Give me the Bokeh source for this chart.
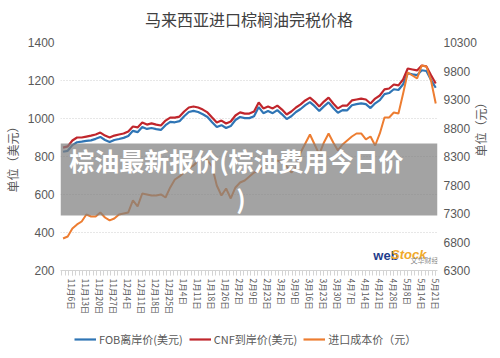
import math
from bokeh.plotting import figure
from bokeh.models import (Range1d, LinearAxis, FixedTicker, Label, BoxAnnotation,
                          Legend, LegendItem, ColumnDataSource)
from bokeh.layouts import column
from bokeh.embed import file_html
from bokeh.resources import INLINE

# ---- data ----
tick_labels = ["11月6日", "11月13日", "11月20日", "11月27日", "12月4日", "12月11日", "12月18日",
               "12月25日", "1月4日", "1月11日", "1月18日", "1月26日", "2月2日", "2月9日",
               "2月23日", "3月2日", "3月9日", "3月16日", "3月23日", "3月30日", "4月7日",
               "4月14日", "4月21日", "4月28日", "5月8日", "5月14日", "5月21日"]

cnf = [847, 853, 884, 900, 900, 905, 910, 916, 926, 910, 900, 910, 916, 921, 932, 958, 953, 979,
       968, 974, 968, 963, 989, 1005, 1005, 1010, 1037, 1058, 1063, 1058, 1047, 1032, 1005, 979,
       989, 974, 984, 1016, 1032, 1026, 1026, 1037, 1084, 1053, 1063, 1053, 1068, 1047, 1021,
       1037, 1058, 1074, 1095, 1110, 1089, 1063, 1089, 1110, 1079, 1053, 1068, 1068, 1095, 1100,
       1105, 1100, 1079, 1105, 1121, 1153, 1158, 1179, 1174, 1205, 1263, 1258, 1253, 1279, 1274,
       1228, 1184]

fob = [825, 830, 860, 875, 878, 882, 885, 893, 903, 887, 876, 887, 892, 898, 908, 935, 928, 955,
       945, 950, 944, 940, 965, 982, 980, 986, 1012, 1034, 1040, 1034, 1022, 1008, 980, 955,
       965, 950, 960, 992, 1008, 1002, 1002, 1012, 1060, 1028, 1040, 1028, 1044, 1022, 997,
       1012, 1034, 1050, 1070, 1086, 1065, 1040, 1064, 1085, 1055, 1030, 1044, 1043, 1070, 1076,
       1080, 1076, 1055, 1080, 1097, 1128, 1134, 1154, 1150, 1180, 1238, 1232, 1228, 1254, 1250,
       1202, 1162]

cost = [6862, 6897, 7037, 7108, 7160, 7283, 7248, 7248, 7318, 7230, 7178, 7213, 7283, 7301, 7318,
        7529, 7424, 7651, 7634, 7616, 7616, 7634, 7581, 7757, 7897, 7950, 8020, 8090, 8143, 8230,
        8265, 8230, 8125, 7792, 7616, 7739, 7564, 7757, 7844, 7879, 7950, 8020, 8055, 8125, 8213,
        8178, 8230, 8195, 8125, 8020, 8107, 8371, 8528, 8686, 8511, 8336, 8546, 8704, 8546, 8406,
        8511, 8581, 8651, 8704, 8704, 8599, 8651, 8493, 8704, 8985, 8985, 9072, 9055, 9405, 9774,
        9721, 9669, 9896, 9879, 9630, 9230]

left_ticks = [200, 400, 600, 800, 1000, 1200, 1400]
right_ticks = [6300, 6800, 7300, 7800, 8300, 8800, 9300, 9800, 10300]

title_text = "马来西亚进口棕榈油完税价格"
overlay_line1 = "棕油最新报价(棕油费用今日价"
overlay_line2 = ")"
series_names = ["FOB离岸价(美元)", "CNF到岸价(美元)", "进口成本价（元）"]
series_colors = ["#2f75b5", "#c0262c", "#ed7d31"]
left_title = "单位（美元）"
right_title = "单位（元）"

idx = list(range(len(cnf)))
label_idx = [2 + 3 * k for k in range(len(tick_labels))]

FONT = "Noto Sans CJK SC"
TXT = "#595959"


def strip(height):
    f = figure(width=500, height=height, output_backend="svg", toolbar_location=None,
               x_range=Range1d(0, 1), y_range=Range1d(0, height),
               x_axis_location=None, y_axis_location=None,
               min_border_left=0, min_border_right=0, min_border_top=0, min_border_bottom=0)
    f.grid.visible = False
    f.outline_line_color = None
    f.border_fill_color = "white"
    return f


# ---- title strip ----
tf = strip(30)
tf.add_layout(Label(x=0.5, y=12, text=title_text, text_font=FONT, text_font_size="16px",
                    text_color="#404040", text_align="center", text_baseline="middle"))

# ---- main chart ----
p = figure(width=500, height=300, output_backend="svg", toolbar_location=None,
           x_range=Range1d(-0.55, 80.38), y_range=Range1d(200, 1400),
           min_border_left=58, min_border_right=60, min_border_top=12, min_border_bottom=60)
p.outline_line_color = None
p.background_fill_color = "white"
p.border_fill_color = "white"
p.extra_y_ranges = {"right": Range1d(6300, 10300)}

p.xgrid.grid_line_color = None
p.ygrid.ticker = FixedTicker(ticks=left_ticks[1:])
p.ygrid.grid_line_color = "#cfcfcf"
p.ygrid.grid_line_dash = "1 2"
p.ygrid.grid_line_width = 1

xa = p.xaxis[0]
xa.ticker = FixedTicker(ticks=label_idx,
                        minor_ticks=[-0.25 + 0.75 * k for k in range(108)])
xa.major_label_overrides = {i: t for i, t in zip(label_idx, tick_labels)}
xa.major_label_orientation = "vertical"
xa.major_label_text_font = FONT
xa.major_label_text_font_size = "8.5px"
xa.major_label_text_color = TXT
xa.major_label_standoff = 3
xa.axis_line_color = "#d4d4d4"
xa.major_tick_line_color = "#d4d4d4"
xa.minor_tick_line_color = "#d4d4d4"
xa.major_tick_in = 0
xa.major_tick_out = 5
xa.minor_tick_in = 0
xa.minor_tick_out = 5


def style_y(ax, title, standoff, title_standoff):
    ax.axis_line_color = None
    ax.major_tick_line_color = None
    ax.minor_tick_line_color = None
    ax.major_tick_in = 0
    ax.major_tick_out = 0
    ax.minor_tick_in = 0
    ax.minor_tick_out = 0
    ax.major_label_text_font = "Liberation Sans"
    ax.major_label_text_font_size = "12px"
    ax.major_label_text_color = TXT
    ax.major_label_standoff = standoff
    ax.axis_label = title
    ax.axis_label_text_font = FONT
    ax.axis_label_text_font_size = "12px"
    ax.axis_label_text_font_style = "normal"
    ax.axis_label_text_color = TXT
    ax.axis_label_standoff = title_standoff


ya = p.yaxis[0]
ya.ticker = FixedTicker(ticks=left_ticks)
style_y(ya, left_title, 6, 4)

ra = LinearAxis(y_range_name="right", ticker=FixedTicker(ticks=right_ticks))
style_y(ra, right_title, 6, 1)
try:
    ra.axis_label_orientation = math.pi / 2
except Exception:
    pass
p.add_layout(ra, "right")

src = ColumnDataSource(dict(x=idx, fob=fob, cnf=cnf, cost=cost))
p.line("x", "fob", source=src, line_color=series_colors[0], line_width=2.2)
p.line("x", "cnf", source=src, line_color=series_colors[1], line_width=2.2)
p.line("x", "cost", source=src, line_color=series_colors[2], line_width=2.0,
       y_range_name="right")

# grey overlay band
p.add_layout(BoxAnnotation(left=-0.55, right=80.38, bottom=489, top=868,
                           fill_color="#808080", fill_alpha=0.72, line_alpha=0))

# overlay text
p.add_layout(Label(x=37.2, y=779, text=overlay_line1, text_font=FONT, text_font_size="25px",
                   text_font_style="bold", text_color="white",
                   text_align="center", text_baseline="middle"))
p.add_layout(Label(x=38.2, y=584, text=overlay_line2, text_font=FONT, text_font_size="25px",
                   text_font_style="bold", text_color="white",
                   text_align="center", text_baseline="middle"))

# watermark
p.add_layout(Label(x=66.6, y=279, text="web", text_font="Liberation Sans",
                   text_font_size="13px", text_font_style="bold", text_color="#1f3d8c",
                   text_align="left", text_baseline="middle"))
p.add_layout(Label(x=70.4, y=282, text="Stock", text_font="Liberation Sans",
                   text_font_size="13px", text_font_style="bold italic", text_color="#f0a92a",
                   text_align="left", text_baseline="middle"))
p.add_layout(Label(x=74.6, y=257, text="文华财经", text_font=FONT,
                   text_font_size="7px", text_color="#8a8a8a",
                   text_align="left", text_baseline="middle"))

# ---- legend strip ----
lg = strip(28)
nan = float("nan")
items = []
for name, col in zip(series_names, series_colors):
    r = lg.line(x=[nan, nan], y=[nan, nan], line_color=col, line_width=2.2)
    items.append(LegendItem(label=name, renderers=[r]))
legend = Legend(items=items, orientation="horizontal", location=(14, 11),
                label_text_font=FONT, label_text_font_size="11px", label_text_color=TXT,
                glyph_width=22, glyph_height=14, label_height=14, label_standoff=3,
                spacing=6, padding=0, margin=0, border_line_color=None,
                background_fill_alpha=0)
lg.add_layout(legend, "center")

layout = column(tf, p, lg, spacing=0)
open("out.html", "w").write(file_html(layout, INLINE))
